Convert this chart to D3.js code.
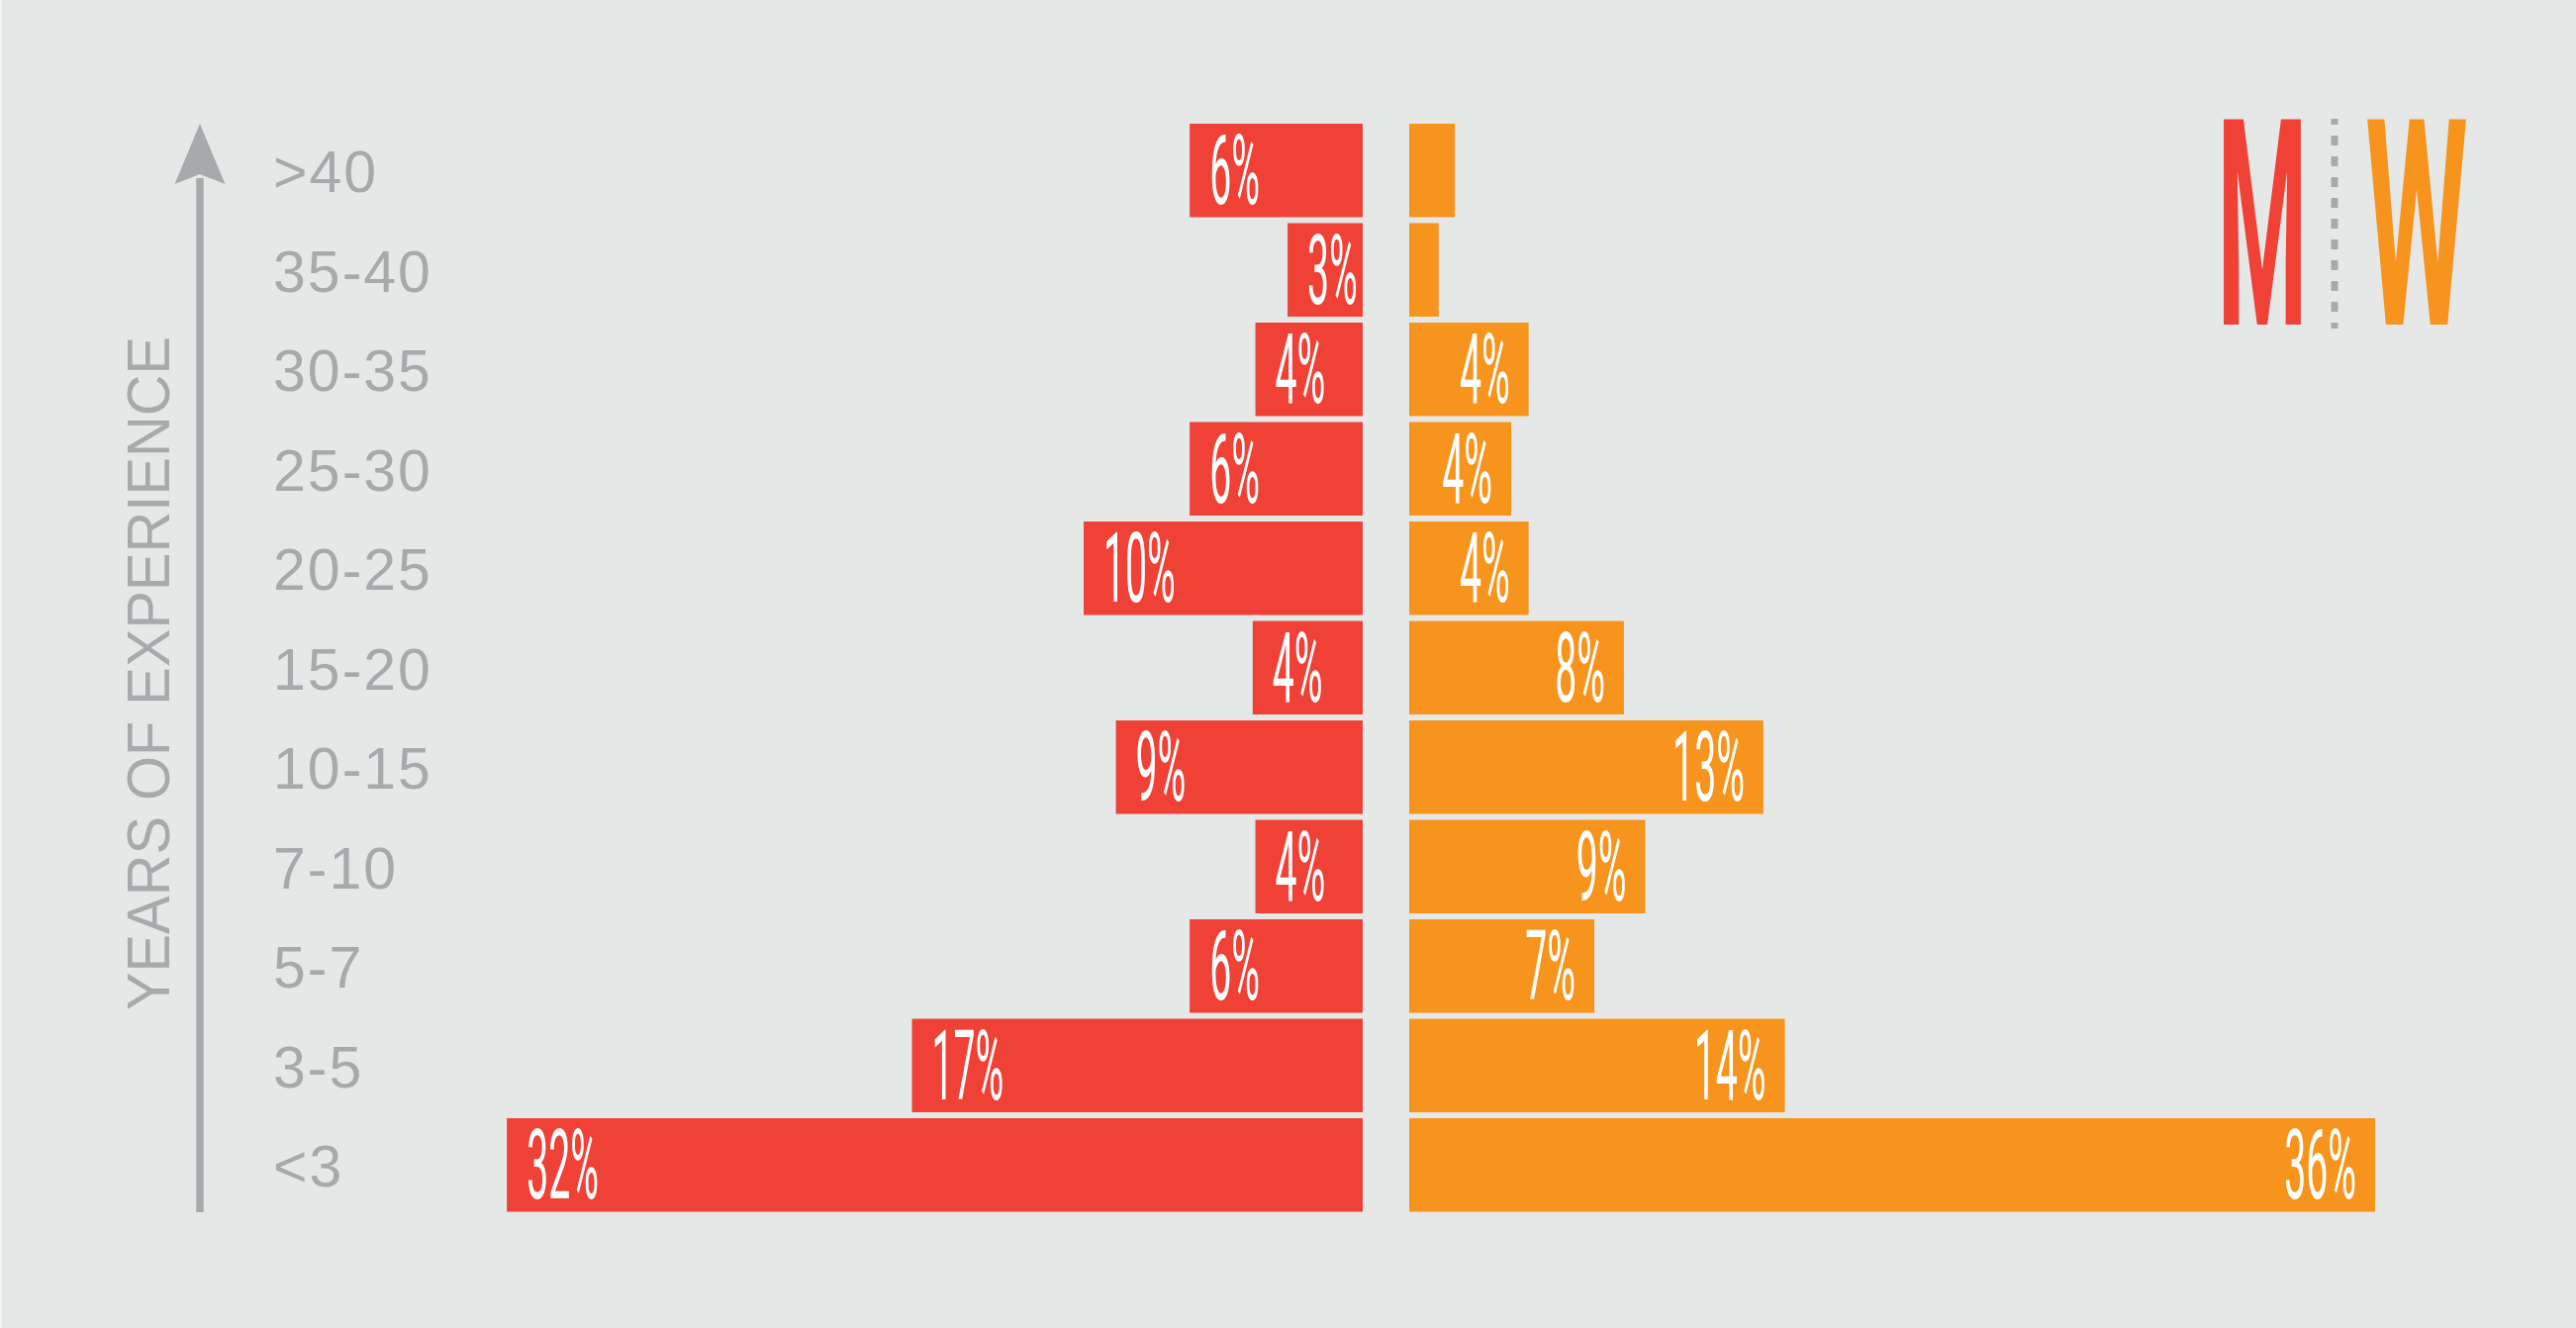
<!DOCTYPE html>
<html>
<head>
<meta charset="utf-8">
<script src="https://cdn.jsdelivr.net/npm/d3@7"></script>
<style>
  html, body { margin: 0; padding: 0; background: #e6e8e7; }
  svg { display: block; }
</style>
</head>
<body>
<svg id="chart" width="2603" height="1342"></svg>
<script>
// Years of experience, top row first
const categories = [">40", "35-40", "30-35", "25-30", "20-25", "15-20", "10-15", "7-10", "5-7", "3-5", "<3"];
// Share of men and women in each bracket (%)
const men   = [6.45, 2.8, 4.0, 6.45, 10.4, 4.1, 9.2, 4.0, 6.45, 16.8, 31.9];
const women = [1.7, 1.1, 4.45, 3.8, 4.45, 8.0, 13.2, 8.8, 6.9, 14.0, 36.0];
const axisTitle = "YEARS OF EXPERIENCE";
const legendMen = "M";
const legendWomen = "W";

const W = 2603, H = 1342;
const RED = "#ef4136", ORANGE = "#f7941d", GREY = "#a7a9ac", BG = "#e6e8e7";
const menEdge = 1377, womenEdge = 1424;

const svg = d3.select("#chart");
svg.append("rect").attr("width", W).attr("height", H).attr("fill", BG);
svg.append("rect").attr("width", 1.5).attr("height", H).attr("fill", "#f4f5f5");

const rows = categories.map((c, i) => ({ cat: c, m: men[i], w: women[i] }));

const y = d3.scaleBand().domain(categories).range([125, 1224.5]).paddingInner(0.06);
const x = d3.scaleLinear().domain([0, 36]).range([0, 976]);
const fmt = v => Math.round(v) + "%";
const showLabel = v => v >= 2.5;

// Men bars grow leftwards from the centre gap
svg.append("g").selectAll("rect").data(rows).join("rect")
  .attr("x", d => menEdge - x(d.m))
  .attr("y", d => y(d.cat))
  .attr("width", d => x(d.m))
  .attr("height", y.bandwidth())
  .attr("fill", RED);

// Women bars grow rightwards
svg.append("g").selectAll("rect").data(rows).join("rect")
  .attr("x", womenEdge)
  .attr("y", d => y(d.cat))
  .attr("width", d => x(d.w))
  .attr("height", y.bandwidth())
  .attr("fill", ORANGE);

// Condensed value labels inside the bars
const labelFont = { family: "Roboto", size: 98, weight: 400, squeeze: 0.4 };
function valueLabels(data, key, posX, anchor) {
  svg.append("g").selectAll("g").data(data.filter(d => showLabel(d[key]))).join("g")
    .attr("transform", d => `translate(${posX(d)},${y(d.cat) + y.bandwidth() / 2 + 34}) scale(${labelFont.squeeze},1)`)
    .append("text")
    .attr("text-anchor", anchor)
    .attr("font-family", labelFont.family)
    .attr("font-size", labelFont.size)
    .attr("font-weight", labelFont.weight)
    .attr("fill", "#ffffff")
    .text(d => fmt(d[key]));
}
valueLabels(rows, "m", d => menEdge - x(d.m) + 20, "start");
valueLabels(rows, "w", d => womenEdge + x(d.w) - 19, "end");

// Category labels
svg.append("g").selectAll("text").data(categories).join("text")
  .attr("x", 276)
  .attr("y", d => y(d) + y.bandwidth() / 2 + 22)
  .attr("font-family", "Liberation Sans, Arial, sans-serif")
  .attr("font-size", 59)
  .attr("letter-spacing", 2)
  .attr("fill", GREY)
  .text(d => d);

// Upward arrow
svg.append("line")
  .attr("x1", 202).attr("x2", 202)
  .attr("y1", 180).attr("y2", 1225)
  .attr("stroke", GREY).attr("stroke-width", 7.5);
svg.append("path")
  .attr("d", "M202,125 L227.5,186 L202,176 L176.5,186 Z")
  .attr("fill", GREY);

// Axis title
svg.append("text")
  .attr("transform", "translate(171,680.5) rotate(-90)")
  .attr("text-anchor", "middle")
  .attr("font-family", "Liberation Sans, Arial, sans-serif")
  .attr("font-size", 61)
  .attr("textLength", 681)
  .attr("lengthAdjust", "spacingAndGlyphs")
  .attr("fill", GREY)
  .text(axisTitle);

// Legend: tall condensed letters separated by a dotted rule
const ctx = document.createElement("canvas").getContext("2d");
function fitLetter(txt, left, right, baseline, colour) {
  const size = 292, weight = 700, fam = "Roboto";
  ctx.font = `${weight} ${size}px ${fam}`;
  const m = ctx.measureText(txt);
  const inkL = -m.actualBoundingBoxLeft, inkR = m.actualBoundingBoxRight;
  const s = (right - left) / (inkR - inkL);
  svg.append("g")
    .attr("transform", `translate(${left - inkL * s},${baseline}) scale(${s},1)`)
    .append("text")
    .attr("font-family", fam)
    .attr("font-weight", weight)
    .attr("font-size", size)
    .attr("fill", colour)
    .text(txt);
}
fitLetter(legendMen, 2247, 2325, 328, RED);
fitLetter(legendWomen, 2392, 2492, 328, ORANGE);
svg.append("line")
  .attr("x1", 2359).attr("x2", 2359)
  .attr("y1", 120).attr("y2", 332)
  .attr("stroke", GREY).attr("stroke-width", 7)
  .attr("stroke-dasharray", "10 11")
  .attr("stroke-dashoffset", 4);
</script>
</body>
</html>
